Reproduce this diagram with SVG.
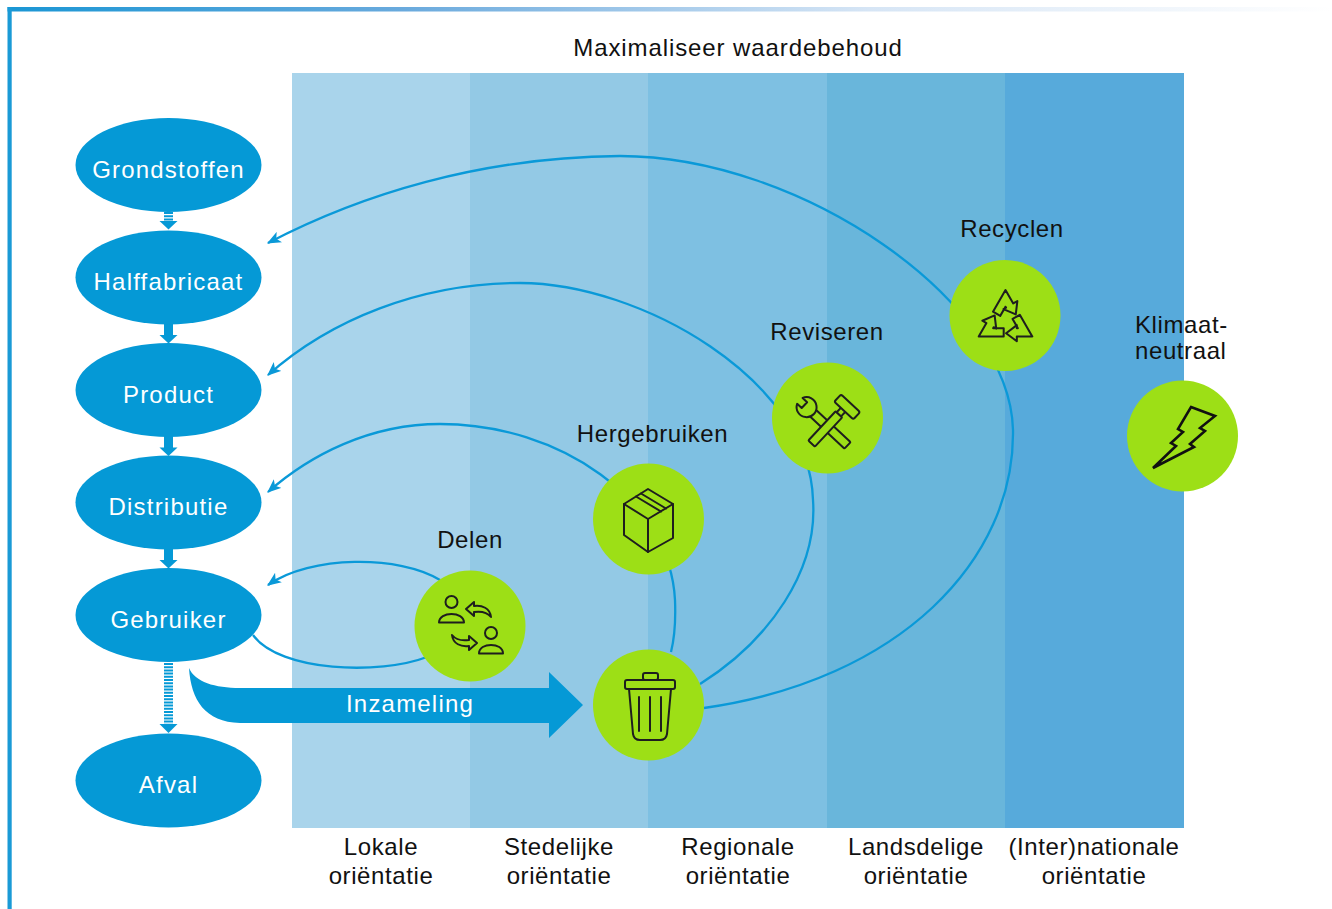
<svg xmlns="http://www.w3.org/2000/svg" width="1332" height="909" viewBox="0 0 1332 909">
<defs>
<linearGradient id="topline" x1="0" y1="0" x2="1" y2="0">
<stop offset="0" stop-color="#1a96d4"/>
<stop offset="0.3" stop-color="#6aaadd"/>
<stop offset="0.65" stop-color="#d6e5f5"/>
<stop offset="1" stop-color="#ffffff"/>
</linearGradient>
<marker id="ah" viewBox="0 0 12 10" refX="11" refY="5" markerWidth="14" markerHeight="12" markerUnits="userSpaceOnUse" orient="auto">
<path d="M0,0 L12,5 L0,10 L3,5 z" fill="#0a99d8"/>
</marker>
<style>
.lbl{font-family:"Liberation Sans",Arial,sans-serif;font-size:24px;fill:#111;letter-spacing:0.6px}
.wlbl{font-family:"Liberation Sans",Arial,sans-serif;font-size:24px;fill:#fff;letter-spacing:1.2px;text-anchor:middle}
.ell{fill:#0599d6}
.circ{fill:#9ddf16}
.curve{fill:none;stroke:#0a99d8;stroke-width:2.3}
.stem{stroke:#0599d6;stroke-width:9}
.stripe{stroke:#0599d6;stroke-width:9;stroke-dasharray:2 1.2}
.head{fill:#0599d6}
.ico{fill:none;stroke:#1e1e1e;stroke-width:2;stroke-linejoin:round;stroke-linecap:round}
.icof{fill:#9ddf16;stroke:#1e1e1e;stroke-width:2;stroke-linejoin:round}
.rec{fill:none;stroke:#1e1e1e;stroke-width:1.7;stroke-linejoin:round}
</style>
</defs>

<rect x="0" y="0" width="1332" height="909" fill="#fff"/>
<rect x="7.5" y="7" width="1325" height="4.5" fill="url(#topline)"/>
<rect x="7.5" y="7" width="4.2" height="902" fill="#1a9ad6"/>

<g id="bands">
<rect x="292" y="73" width="178.5" height="755" fill="#a9d4eb"/>
<rect x="470" y="73" width="178.5" height="755" fill="#93c9e5"/>
<rect x="648" y="73" width="179.5" height="755" fill="#7ec0e2"/>
<rect x="827" y="73" width="178.5" height="755" fill="#69b6db"/>
<rect x="1005" y="73" width="179" height="755" fill="#57aadb"/>
</g>

<text class="lbl" x="738" y="56" text-anchor="middle" style="letter-spacing:0.9px">Maximaliseer waardebehoud</text>

<g id="connectors">
<line class="stripe" x1="168.5" y1="212" x2="168.5" y2="221"/>
<polygon class="head" points="159.5,221 177.5,221 168.5,229.5"/>
<line class="stem" x1="168.5" y1="323" x2="168.5" y2="336"/>
<polygon class="head" points="159.5,335 177.5,335 168.5,343.5"/>
<line class="stem" x1="168.5" y1="436" x2="168.5" y2="448"/>
<polygon class="head" points="159.5,447.5 177.5,447.5 168.5,456"/>
<line class="stem" x1="168.5" y1="548" x2="168.5" y2="561"/>
<polygon class="head" points="159.5,560 177.5,560 168.5,568.5"/>
<line class="stripe" x1="168.5" y1="663" x2="168.5" y2="724"/>
<polygon class="head" points="159.5,724 177.5,724 168.5,733"/>

<path id="inzameling" d="M189,668 C191,700 205,722 240,723 L549,723 L549,738 L583,705 L549,672 L549,688 L240,688 C215,688 195,682 189,668 Z" fill="#0599d6"/>

<path class="curve" marker-end="url(#ah)" d="M704,708 C900,680 1015,560 1013,430 C1010,300 800,156 620,156 C480,157 360,195 268,243"/>
<path class="curve" marker-end="url(#ah)" d="M700,684 C770,640 818,570 813,500 C810,380 640,283 520,283 C420,283 330,320 268,375"/>
<path class="curve" marker-end="url(#ah)" d="M671,652 C674,640 676,625 675,600 C670,500 560,424 440,424 C370,424 310,455 268,492"/>
<path class="curve" marker-end="url(#ah)" d="M440,580 C400,555 310,555 268,585"/>
<path class="curve" d="M253,635 C280,672 380,675 427,657"/>
</g>

<text class="wlbl" x="410" y="711.5">Inzameling</text>

<g id="node-grondstoffen"><ellipse class="ell" cx="168.5" cy="165" rx="93" ry="47"/><text class="wlbl" x="168.5" y="177.5">Grondstoffen</text></g>
<g id="node-halffabricaat"><ellipse class="ell" cx="168.5" cy="277.5" rx="93" ry="47"/><text class="wlbl" x="168.5" y="290">Halffabricaat</text></g>
<g id="node-product"><ellipse class="ell" cx="168.5" cy="390" rx="93" ry="47"/><text class="wlbl" x="168.5" y="402.5">Product</text></g>
<g id="node-distributie"><ellipse class="ell" cx="168.5" cy="502.5" rx="93" ry="47"/><text class="wlbl" x="168.5" y="515">Distributie</text></g>
<g id="node-gebruiker"><ellipse class="ell" cx="168.5" cy="615" rx="93" ry="47"/><text class="wlbl" x="168.5" y="627.5">Gebruiker</text></g>
<g id="node-afval"><ellipse class="ell" cx="168.5" cy="780.5" rx="93" ry="47"/><text class="wlbl" x="168.5" y="793">Afval</text></g>

<g id="node-delen">
<circle class="circ" cx="470" cy="626" r="55.5"/>
<text class="lbl" x="470" y="547.5" text-anchor="middle">Delen</text>
<circle class="ico" cx="451.5" cy="602" r="6"/>
<path class="ico" d="M439,622.5 C439,611 464,611 464,622.5 Z"/>
<circle class="ico" cx="491" cy="633" r="6"/>
<path class="ico" d="M479,653.5 C479,642 503,642 503,653.5 Z"/>
<path class="ico" d="M466,609 L474,602 L474,606 C482,605 490,608 491,617 C487,612 481,611 474,612 L474,616 Z"/>
<path class="ico" d="M477,643 L469,650 L469,646 C461,647 453,644 452,635 C456,640 462,641 469,640 L469,636 Z"/>
</g>

<g id="node-hergebruiken">
<circle class="circ" cx="648.5" cy="519" r="55.5"/>
<text class="lbl" x="652.5" y="441.5" text-anchor="middle">Hergebruiken</text>
<path class="ico" d="M648,489 L673,504 L673,538 L648,552 L624,535 L624,504 Z"/>
<path class="ico" d="M624,504 L648,519 L673,504 M648,519 L648,552"/>
<path class="ico" d="M641,493.5 L666,508.5 M636,496.5 L661,511.5"/>
</g>

<g id="node-inzameling-bak">
<circle class="circ" cx="648.5" cy="705" r="55.5"/>
<rect class="ico" x="643" y="673" width="15" height="7" rx="2"/>
<rect class="ico" x="625" y="680" width="50" height="9" rx="2"/>
<path class="ico" d="M629,689 L633,734 Q634,740 640,740 L660,740 Q666,740 667,734 L671,689"/>
<path class="ico" d="M639,697 L639,731 M650,697 L650,731 M661,697 L661,731"/>
</g>

<g id="node-reviseren">
<circle class="circ" cx="827.5" cy="418" r="55.5"/>
<text class="lbl" x="827" y="339.5" text-anchor="middle">Reviseren</text>
<g transform="translate(830,429) rotate(-47)">
<rect class="icof" x="-4.5" y="-23" width="9" height="47" rx="1"/>
<path class="icof" d="M-4,-41.2 L-4,-35 L4,-35 L4,-41.2 A10,10 0 1 1 -4,-41.2 Z"/>
</g>
<g transform="translate(828,426) rotate(43)">
<rect class="icof" x="-4.5" y="-16" width="9" height="40" rx="1"/>
<rect class="icof" x="-3" y="-23" width="6" height="7"/>
<rect class="icof" x="-12" y="-32" width="26" height="10" rx="2"/>
</g>
</g>

<g id="node-recyclen">
<circle class="circ" cx="1005" cy="315.5" r="55.5"/>
<text class="lbl" x="1012" y="236.5" text-anchor="middle">Recyclen</text>
<g transform="translate(1005.5,321) scale(1.19)">
<path class="rec" d="M-10.5,-7.81 L0,-26 L6.5,-14.74 L9.96,-16.74 L8.62,-5.57 L-1.73,-9.99 L0.44,-11.24 L0,-12 L-4.44,-4.31 Z"/>
<path class="rec" transform="rotate(120)" d="M-10.5,-7.81 L0,-26 L6.5,-14.74 L9.96,-16.74 L8.62,-5.57 L-1.73,-9.99 L0.44,-11.24 L0,-12 L-4.44,-4.31 Z"/>
<path class="rec" transform="rotate(240)" d="M-10.5,-7.81 L0,-26 L6.5,-14.74 L9.96,-16.74 L8.62,-5.57 L-1.73,-9.99 L0.44,-11.24 L0,-12 L-4.44,-4.31 Z"/>
</g>
</g>

<g id="node-klimaatneutraal">
<circle class="circ" cx="1182.5" cy="436" r="55.5"/>
<text class="lbl" x="1135" y="332.5">Klimaat-</text>
<text class="lbl" x="1135" y="359">neutraal</text>
<path fill="none" stroke="#111" stroke-width="2.6" stroke-linejoin="miter" d="M1191,407 L1215,416 L1200,428 L1205,431 L1190,444 L1194,447 L1153,468 L1176,446 L1171,443 L1183,432 L1178,429 Z"/>
</g>

<g id="axis-labels">
<text class="lbl" x="381" y="855" text-anchor="middle">Lokale</text>
<text class="lbl" x="381" y="884" text-anchor="middle">oriëntatie</text>
<text class="lbl" x="559" y="855" text-anchor="middle">Stedelijke</text>
<text class="lbl" x="559" y="884" text-anchor="middle">oriëntatie</text>
<text class="lbl" x="738" y="855" text-anchor="middle">Regionale</text>
<text class="lbl" x="738" y="884" text-anchor="middle">oriëntatie</text>
<text class="lbl" x="916" y="855" text-anchor="middle">Landsdelige</text>
<text class="lbl" x="916" y="884" text-anchor="middle">oriëntatie</text>
<text class="lbl" x="1094" y="855" text-anchor="middle">(Inter)nationale</text>
<text class="lbl" x="1094" y="884" text-anchor="middle">oriëntatie</text>
</g>
</svg>
